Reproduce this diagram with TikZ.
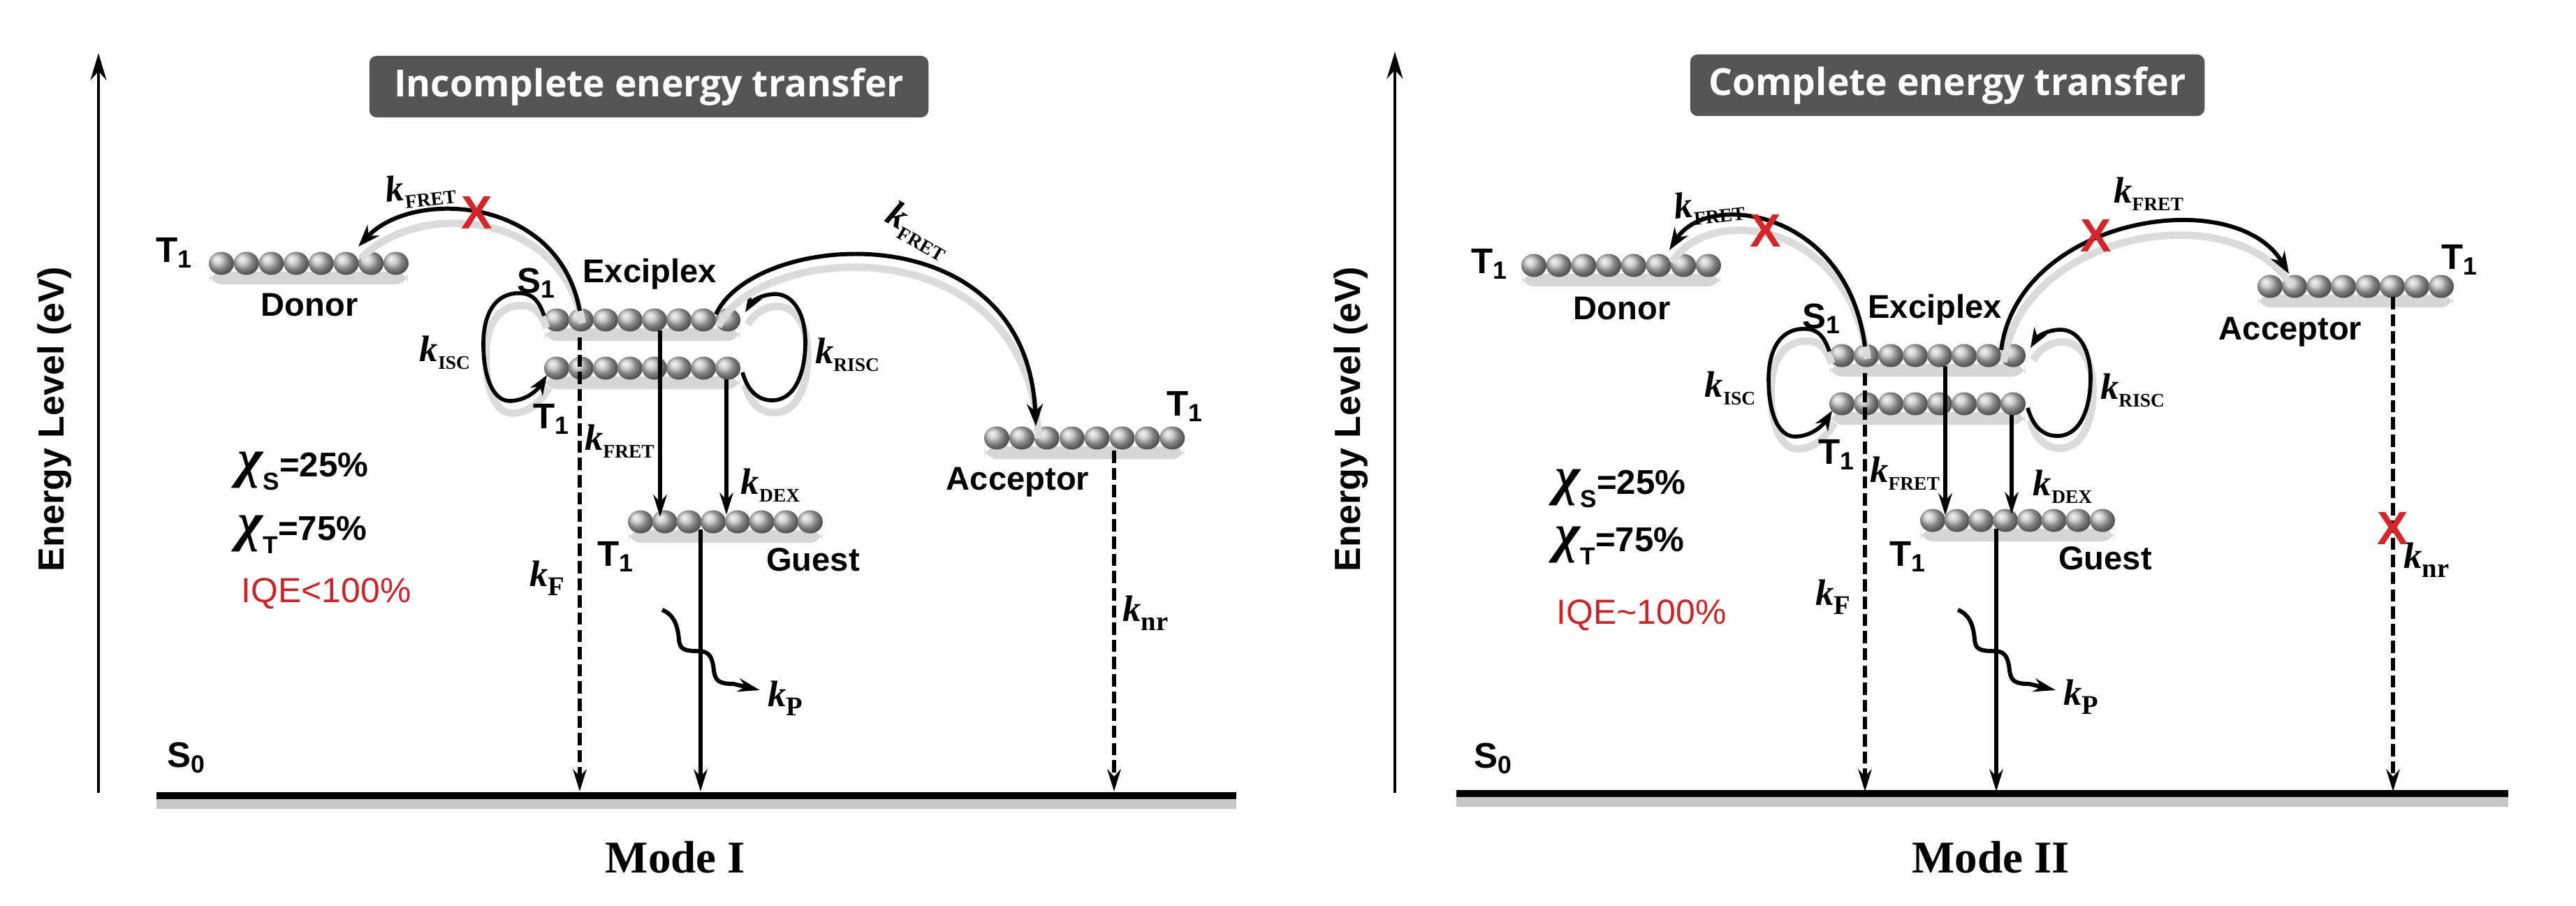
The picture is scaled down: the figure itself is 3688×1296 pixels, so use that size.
\documentclass[tikz,border=0pt]{standalone}
\usepackage{fontspec}
\setmainfont{Liberation Sans}
\newfontfamily\serifb{Liberation Serif}
\newfontfamily\titlef{Open Sans}
\usetikzlibrary{arrows.meta,calc}
\definecolor{xred}{RGB}{210,38,42}
\definecolor{iqered}{RGB}{200,38,42}
\definecolor{boxgray}{RGB}{85,85,85}
\newcommand\kr[1]{{\serifb\bfseries\itshape k}\raisebox{-3.2pt}{\serifb\bfseries\fontsize{7.8}{8}\selectfont #1}}
\newcommand\krr[1]{{\serifb\bfseries\itshape k}\raisebox{-3.6pt}{\serifb\bfseries\fontsize{11}{11}\selectfont #1}}
\newcommand\chil[2]{{\serifb\bfseries\itshape\fontsize{22}{22}\selectfont χ}\raisebox{-5.5pt}{\fontsize{10}{10}\selectfont #1}#2}
\newcommand\beadrow[4]{%
  \fill[black!16, rounded corners=5pt] ({#1-17},{#2+12}) rectangle ({#1+7*#3+17},{#2+30});
  \foreach \i in {0,...,7}{\shade[ball color=black!25] ({#1+\i*#3},{#2}) ellipse [x radius=0.18cm, y radius=0.165cm];}
  \node[inner sep=0pt, minimum width={(7*#3+36)*0.01cm}, minimum height=0.33cm] (#4) at ({#1+3.5*#3},{#2}) {};
}
\tikzset{
  lab/.style={inner sep=0pt, font=\bfseries\fontsize{13.4}{14}\selectfont},
  tlab/.style={inner sep=0pt, font=\bfseries\fontsize{14.5}{15}\selectfont},
  klab/.style={inner sep=0pt, font=\fontsize{15}{15}\selectfont},
  sh/.style={preaction={draw=black!14, line width=3pt, arrows=-, transform canvas={xshift=1pt,yshift=-5pt}}},
  arcar/.style={sh, line width=1.7pt, -{Stealth[length=9pt,width=6.5pt]}},
  cyc/.style={sh, line width=1.6pt, -{Stealth[length=8pt,width=6pt]}},
  vline/.style={line width=1.7pt, -{Stealth[length=9pt,width=5.5pt]}},
  dline/.style={vline, dash pattern=on 5pt off 2pt},
  axisar/.style={line width=1.3pt, -{Stealth[length=11pt,width=6.5pt]}},
  xmark/.style={inner sep=0pt, text=xred, font=\bfseries\fontsize{19}{19}\selectfont},
  titlebox/.style={fill=boxgray, rounded corners=3pt, text=white, font=\titlef\bfseries\fontsize{15.2}{16}\selectfont, inner sep=0pt},
  modef/.style={inner sep=0pt, font=\serifb\bfseries\fontsize{18.5}{19}\selectfont},
  chif/.style={inner sep=0pt, anchor=base west, font=\bfseries\fontsize{14}{14}\selectfont},
  iqef/.style={inner sep=0pt, anchor=base west, text=iqered, font=\fontsize{14.2}{14}\selectfont},
  elab/.style={inner sep=0pt, rotate=90, font=\bfseries\fontsize{14.8}{15}\selectfont},
}
\newcommand\exgroup[3]{%
\begin{scope}[shift={(#2,#3)}]
  \beadrow{797}{458}{35}{#1S}
  \beadrow{797}{527}{35}{#1T}
  \coordinate (#1isc0) at (779,452);
  \coordinate (#1isc1) at (783,537);
  \coordinate (#1risc0) at (1063,533);
  \coordinate (#1risc1) at (1067,447);
  \draw[cyc] (#1isc0) .. controls (770,425) and (757,418) .. (737,420)
     .. controls (702,424) and (692,460) .. (692,492)
     .. controls (692,540) and (706,575) .. (731,574)
     .. controls (756,573) and (771,556) .. (#1isc1);
  \draw[cyc] (#1risc0) .. controls (1072,565) and (1090,574) .. (1108,573)
     .. controls (1140,571) and (1153,530) .. (1153,490)
     .. controls (1153,448) and (1135,421) .. (1110,421)
     .. controls (1090,421) and (1076,432) .. (#1risc1);
  \node[tlab] (#1sl) at (768,405) {S\textsubscript{1}};
  \node[tlab] (#1tl) at (790,600) {T\textsubscript{1}};
  \node[lab] (#1exl) at (930,392) {Exciplex};
  \node[klab] (#1isc) at (637,505) {\kr{ISC}};
  \node[klab] (#1risc) at (1213,508) {\kr{RISC}};
  \coordinate (#1kf0) at (830,483);
  \coordinate (#1fr0) at (945,473);
  \coordinate (#1dx0) at (1040,543);
  \coordinate (#1arcL) at (830,445);
  \coordinate (#1arcR) at (1025,450);
\end{scope}}
\begin{document}
\begin{tikzpicture}[x=0.01cm,y=-0.01cm]
\useasboundingbox (0,0) rectangle (3688,1296);
\fill[white] (0,0) rectangle (3688,1296);

% ================= LEFT PANEL =================
\coordinate (La0) at (141,1135);
\coordinate (La1) at (141,76);
\draw[axisar] (La0) -- (La1);
\node[elab] (Len) at (78,600) {Energy Level (eV)};
\node[titlebox, minimum width=8cm, minimum height=0.88cm] (Ltit) at (929,124) {Incomplete energy transfer};

% ground
\coordinate (Lg0) at (224,1139);
\coordinate (Lg1) at (1770,1139);
\fill[black!22] (224,1143) rectangle (1770,1158);
\draw[line width=2.6pt] (Lg0) -- (Lg1);
\node[tlab] (Ls0) at (267,1085) {S\textsubscript{0}};
\node[modef] (Lmode) at (967,1227) {Mode I};

% donor
\beadrow{317}{377}{35.7}{Ldon}
\node[tlab] (LdT) at (250,362) {T\textsubscript{1}};
\node[lab] (Ldl) at (443,437) {Donor};

% exciplex
\exgroup{L}{0}{0}

% guest
\beadrow{917}{747}{34.7}{Lgu}
\node[tlab] (LgT) at (882,797) {T\textsubscript{1}};
\node[lab] (Lgl) at (1164,801) {Guest};

% acceptor
\beadrow{1427}{627}{35.9}{Lac}
\node[tlab] (LaT) at (1697,582) {T\textsubscript{1}};
\node[lab] (Lal) at (1457,690) {Acceptor};

% arcs
\coordinate (Ldon1) at (513,353);
\draw[arcar] (LarcL) .. controls (800,280) and (590,270) .. (Ldon1);
\node[xmark] (Lx1) at (683,305) {X};
\node[klab, rotate=6] (Lkf1) at (602,272) {\kr{FRET}};
\coordinate (Lacc1) at (1483,610);
\draw[arcar] (LarcR) .. controls (1080,330) and (1470,300) .. (Lacc1);
\node[klab, rotate=-30] (Lkf2) at (1315,330) {\kr{FRET}};

% vertical transitions
\coordinate (Lkf1e) at (830,1133);
\draw[dline] (Lkf0) -- (Lkf1e);
\node[klab] (LkF) at (783,828) {\krr{F}};
\coordinate (Lfr1) at (945,740);
\draw[vline] (Lfr0) -- (Lfr1);
\node[klab] (Lkfr) at (887,632) {\kr{FRET}};
\coordinate (Ldx1) at (1040,737);
\draw[vline] (Ldx0) -- (Ldx1);
\node[klab] (Lkdx) at (1103,695) {\kr{DEX}};
\coordinate (Lgp0) at (1003,758);
\coordinate (Lgp1) at (1003,1133);
\draw[vline] (Lgp0) -- (Lgp1);
\coordinate (Lw0) at (948,873);
\coordinate (Lw1) at (1088,988);
\draw[vline] (Lw0) .. controls (965,880) and (970,895) .. (972,915)
   .. controls (973,930) and (980,932) .. (1000,932)
   .. controls (1015,932) and (1020,940) .. (1022,960)
   .. controls (1024,975) and (1030,979) .. (1050,979) -- (Lw1);
\node[klab] (LkP) at (1124,1000) {\krr{P}};
\coordinate (Lnr0) at (1595,645);
\coordinate (Lnr1) at (1595,1133);
\draw[dline] (Lnr0) -- (Lnr1);
\node[klab] (Lknr) at (1640,878) {\krr{nr}};

% text
\node[chif] (Lchis) at (340,682) {\chil{S}{=25\%}};
\node[chif] (Lchit) at (340,773) {\chil{T}{=75\%}};
\node[iqef] (Liqe) at (345,862) {IQE<100\%};

% ================= RIGHT PANEL =================
\coordinate (Ra0) at (1997,1135);
\coordinate (Ra1) at (1997,74);
\draw[axisar] (Ra0) -- (Ra1);
\node[elab] (Ren) at (1934,600) {Energy Level (eV)};
\node[titlebox, minimum width=7.36cm, minimum height=0.88cm] (Rtit) at (2788,122) {Complete energy transfer};

\coordinate (Rg0) at (2085,1136);
\coordinate (Rg1) at (3591,1136);
\fill[black!22] (2085,1140) rectangle (3591,1155);
\draw[line width=2.6pt] (Rg0) -- (Rg1);
\node[tlab] (Rs0) at (2138,1086) {S\textsubscript{0}};
\node[modef] (Rmode) at (2850,1227) {Mode II};

\beadrow{2196}{380}{35.7}{Rdon}
\node[tlab] (RdT) at (2133,378) {T\textsubscript{1}};
\node[lab] (Rdl) at (2322,442) {Donor};

\exgroup{R}{1840}{51}

\beadrow{2767}{745}{34.7}{Rgu}
\node[tlab] (RgT) at (2732,797) {T\textsubscript{1}};
\node[lab] (Rgl) at (3014,799) {Guest};

\beadrow{3250}{410}{35}{Rac}
\node[tlab] (RaT) at (3522,372) {T\textsubscript{1}};
\node[lab] (Ral) at (3279,475) {Acceptor};

\coordinate (Rdon1) at (2390,358);
\draw[arcar] (RarcL) .. controls (2645,300) and (2445,272) .. (Rdon1);
\node[xmark] (Rx1) at (2528,330) {X};
\node[klab, rotate=6] (Rkf1) at (2447,296) {\kr{FRET}};
\coordinate (Racc1) at (3277,392);
\draw[arcar] (RarcR) .. controls (2890,310) and (3200,262) .. (Racc1);
\node[xmark] (Rx2) at (3001,338) {X};
\node[klab] (Rkf2) at (3076,278) {\kr{FRET}};

\coordinate (Rkf1e) at (2670,1133);
\draw[dline] (Rkf0) -- (Rkf1e);
\node[klab] (RkF) at (2624,855) {\krr{F}};
\coordinate (Rfr1) at (2785,738);
\draw[vline] (Rfr0) -- (Rfr1);
\node[klab] (Rkfr) at (2727,678) {\kr{FRET}};
\coordinate (Rdx1) at (2880,736);
\draw[vline] (Rdx0) -- (Rdx1);
\node[klab] (Rkdx) at (2953,697) {\kr{DEX}};
\coordinate (Rgp0) at (2858,757);
\coordinate (Rgp1) at (2858,1133);
\draw[vline] (Rgp0) -- (Rgp1);
\begin{scope}[shift={(1855,0)}]
\coordinate (Rw0) at (948,873);
\coordinate (Rw1) at (1088,988);
\draw[vline] (Rw0) .. controls (965,880) and (970,895) .. (972,915)
   .. controls (973,930) and (980,932) .. (1000,932)
   .. controls (1015,932) and (1020,940) .. (1022,960)
   .. controls (1024,975) and (1030,979) .. (1050,979) -- (Rw1);
\end{scope}
\node[klab] (RkP) at (2979,998) {\krr{P}};
\coordinate (Rnr0) at (3426,425);
\coordinate (Rnr1) at (3426,1133);
\draw[dline] (Rnr0) -- (Rnr1);
\node[xmark] (Rx3) at (3426,756) {X};
\node[klab] (Rknr) at (3474,802) {\krr{nr}};

\node[chif] (Rchis) at (2226,707) {\chil{S}{=25\%}};
\node[chif] (Rchit) at (2226,789) {\chil{T}{=75\%}};
\node[iqef] (Riqe) at (2228,893) {IQE\textasciitilde100\%};
\end{tikzpicture}
\end{document}
